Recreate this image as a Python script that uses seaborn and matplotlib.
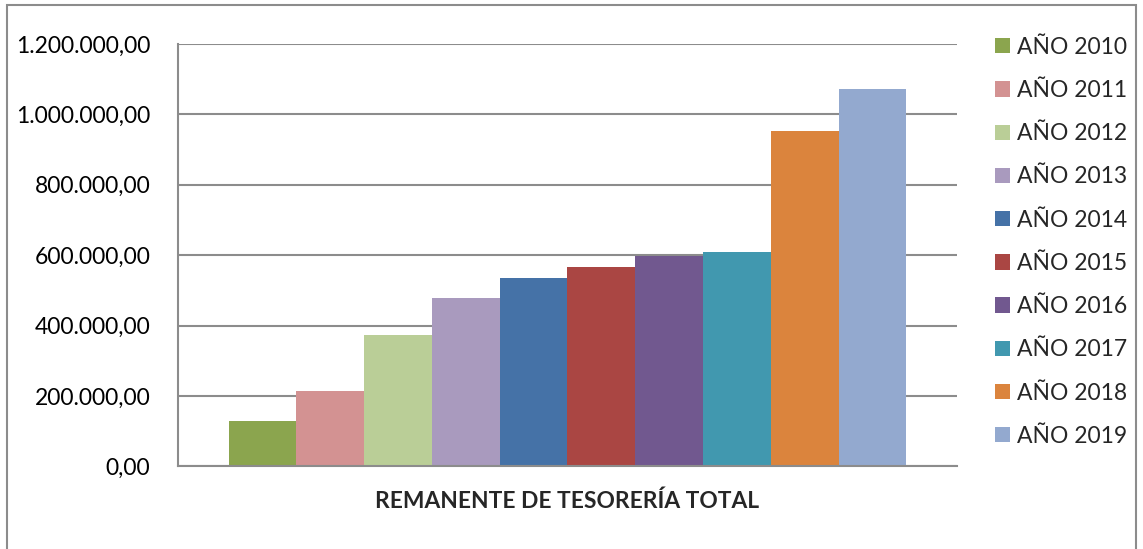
import numpy as np
import pandas as pd
import matplotlib
matplotlib.use("Agg")
import matplotlib.pyplot as plt
from matplotlib.ticker import FuncFormatter, MultipleLocator
from matplotlib.patches import Rectangle
import seaborn as sns

# datos
concepto = ["REMANENTE DE TESORERÍA TOTAL"]
anios = ["AÑO 2010", "AÑO 2011", "AÑO 2012", "AÑO 2013", "AÑO 2014",
         "AÑO 2015", "AÑO 2016", "AÑO 2017", "AÑO 2018", "AÑO 2019"]
valores = [129500, 215000, 374000, 479000, 536000,
           567500, 599000, 610000, 954000, 1073500]
colores = ["#8BA54E", "#D39292", "#BACE97", "#A99ABE", "#4572A7",
           "#AA4643", "#71588F", "#4198AF", "#DB843D", "#93A9CF"]

df = pd.DataFrame({"concepto": concepto * len(anios), "anio": anios, "valor": valores})

sns.set_theme(style="white")
plt.rcParams["font.family"] = ["Lato", "DejaVu Sans"]

fig = plt.figure(figsize=(11.43, 5.49), dpi=100)
ax = fig.add_axes([0.1557, 0.1503, 0.8373 - 0.1557, 0.9199 - 0.1503])

sns.barplot(data=df, x="concepto", y="valor", hue="anio", palette=colores,
            width=0.87, saturation=1, ax=ax, errorbar=None, legend=True,
            linewidth=0)

ax.set_xlim(-0.5, 0.5)
ax.set_ylim(0, 1200000)
ax.yaxis.set_major_locator(MultipleLocator(200000))

def fmt(v, pos):
    s = f"{v:,.2f}"
    return s.replace(",", "X").replace(".", ",").replace("X", ".")

ax.yaxis.set_major_formatter(FuncFormatter(fmt))
ax.grid(axis="y", color="#8c8c8c", linewidth=1.5)
ax.set_axisbelow(True)
for s in ["top", "right"]:
    ax.spines[s].set_visible(False)
for s in ["left", "bottom"]:
    ax.spines[s].set_color("#8c8c8c")
    ax.spines[s].set_linewidth(1.5)
ax.tick_params(axis="y", labelsize=16.5, pad=20, length=0, colors="black")
ax.tick_params(axis="x", length=0)
ax.set_xticklabels([])
ax.set_ylabel("")
ax.set_xlabel("REMANENTE DE TESORERÍA TOTAL", fontsize=16.4, fontweight="bold",
              labelpad=14)

handles, labels = ax.get_legend_handles_labels()
ax.legend(handles, labels, loc="upper left", bbox_to_anchor=(0.8705, 0.933),
          bbox_transform=fig.transFigure, frameon=False, fontsize=16.5,
          handlelength=0.65, handleheight=0.65, handletextpad=0.3,
          labelspacing=0.97, borderaxespad=0, borderpad=0)

# marco del gráfico
fig.patches.append(Rectangle((7 / 1143, -0.05), 1129 / 1143, 1.05 - 5 / 549,
                             transform=fig.transFigure, fill=False,
                             edgecolor="#8c8c8c", linewidth=1.5))

fig.savefig("out.png", dpi=100, facecolor="white")
